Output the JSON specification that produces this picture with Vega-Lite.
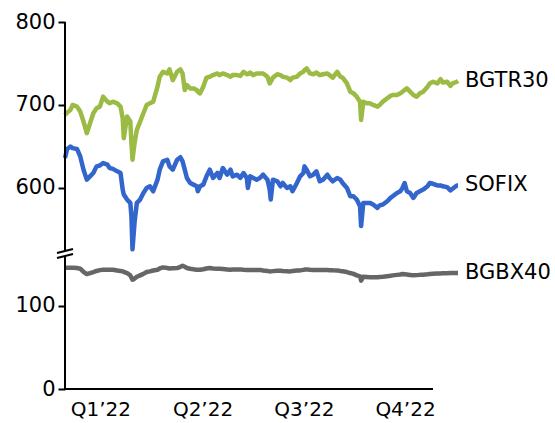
{
  "$schema": "https://vega.github.io/schema/vega-lite/v6.json",
  "width": 393,
  "height": 367,
  "autosize": "none",
  "padding": {"left": 65, "top": 22, "right": 97, "bottom": 34},
  "config": {"view": {"stroke": null}, "font": "DejaVu Sans"},
  "datasets": {
    "main": [
      {"date":"2022-01-03","BGTR30":688,"SOFIX":636,"BGBX40":145.5},
      {"date":"2022-01-05","BGTR30":691,"SOFIX":647,"BGBX40":146},
      {"date":"2022-01-08","BGTR30":694,"SOFIX":650,"BGBX40":146},
      {"date":"2022-01-10","BGTR30":700,"SOFIX":648,"BGBX40":146},
      {"date":"2022-01-14","BGTR30":698,"SOFIX":647,"BGBX40":145.5},
      {"date":"2022-01-17","BGTR30":692,"SOFIX":638,"BGBX40":144.7},
      {"date":"2022-01-20","BGTR30":680,"SOFIX":622,"BGBX40":141},
      {"date":"2022-01-23","BGTR30":666,"SOFIX":610,"BGBX40":138.3},
      {"date":"2022-01-26","BGTR30":678,"SOFIX":614,"BGBX40":139.5},
      {"date":"2022-01-29","BGTR30":690,"SOFIX":618,"BGBX40":140.7},
      {"date":"2022-02-01","BGTR30":696,"SOFIX":626,"BGBX40":142},
      {"date":"2022-02-04","BGTR30":698,"SOFIX":627,"BGBX40":143},
      {"date":"2022-02-07","BGTR30":710,"SOFIX":630,"BGBX40":143.5},
      {"date":"2022-02-11","BGTR30":704,"SOFIX":628,"BGBX40":143.5},
      {"date":"2022-02-13","BGTR30":702,"SOFIX":624,"BGBX40":143.5},
      {"date":"2022-02-16","BGTR30":704,"SOFIX":623,"BGBX40":143.5},
      {"date":"2022-02-20","BGTR30":702,"SOFIX":620,"BGBX40":142.5},
      {"date":"2022-02-23","BGTR30":698,"SOFIX":618,"BGBX40":142},
      {"date":"2022-02-25","BGTR30":684,"SOFIX":598,"BGBX40":141.5},
      {"date":"2022-02-26","BGTR30":660,"SOFIX":592,"BGBX40":141},
      {"date":"2022-03-01","BGTR30":686,"SOFIX":586,"BGBX40":139.5},
      {"date":"2022-03-04","BGTR30":680,"SOFIX":582,"BGBX40":136.7},
      {"date":"2022-03-05","BGTR30":655,"SOFIX":566,"BGBX40":134},
      {"date":"2022-03-06","BGTR30":634,"SOFIX":526,"BGBX40":131.5},
      {"date":"2022-03-08","BGTR30":655,"SOFIX":560,"BGBX40":133},
      {"date":"2022-03-10","BGTR30":670,"SOFIX":582,"BGBX40":135},
      {"date":"2022-03-13","BGTR30":680,"SOFIX":586,"BGBX40":136.7},
      {"date":"2022-03-16","BGTR30":690,"SOFIX":594,"BGBX40":138.5},
      {"date":"2022-03-19","BGTR30":700,"SOFIX":600,"BGBX40":140.7},
      {"date":"2022-03-22","BGTR30":702,"SOFIX":602,"BGBX40":141.5},
      {"date":"2022-03-25","BGTR30":704,"SOFIX":596,"BGBX40":142.5},
      {"date":"2022-03-29","BGTR30":722,"SOFIX":610,"BGBX40":143.5},
      {"date":"2022-03-31","BGTR30":734,"SOFIX":622,"BGBX40":145},
      {"date":"2022-04-03","BGTR30":740,"SOFIX":632,"BGBX40":146.3},
      {"date":"2022-04-07","BGTR30":738,"SOFIX":634,"BGBX40":145.5},
      {"date":"2022-04-09","BGTR30":743,"SOFIX":626,"BGBX40":145},
      {"date":"2022-04-12","BGTR30":730,"SOFIX":622,"BGBX40":145.3},
      {"date":"2022-04-16","BGTR30":740,"SOFIX":634,"BGBX40":145.5},
      {"date":"2022-04-19","BGTR30":743,"SOFIX":637,"BGBX40":147},
      {"date":"2022-04-21","BGTR30":738,"SOFIX":632,"BGBX40":148.3},
      {"date":"2022-04-23","BGTR30":718,"SOFIX":622,"BGBX40":147},
      {"date":"2022-04-25","BGTR30":724,"SOFIX":612,"BGBX40":145.5},
      {"date":"2022-04-28","BGTR30":720,"SOFIX":606,"BGBX40":144.7},
      {"date":"2022-05-01","BGTR30":720,"SOFIX":604,"BGBX40":144},
      {"date":"2022-05-04","BGTR30":718,"SOFIX":602,"BGBX40":143.5},
      {"date":"2022-05-05","BGTR30":716,"SOFIX":596,"BGBX40":143.5},
      {"date":"2022-05-07","BGTR30":714,"SOFIX":602,"BGBX40":143.5},
      {"date":"2022-05-10","BGTR30":722,"SOFIX":604,"BGBX40":144},
      {"date":"2022-05-13","BGTR30":733,"SOFIX":614,"BGBX40":145},
      {"date":"2022-05-16","BGTR30":734,"SOFIX":622,"BGBX40":145.5},
      {"date":"2022-05-19","BGTR30":736,"SOFIX":612,"BGBX40":145},
      {"date":"2022-05-23","BGTR30":738,"SOFIX":618,"BGBX40":144.7},
      {"date":"2022-05-25","BGTR30":736,"SOFIX":612,"BGBX40":144.7},
      {"date":"2022-05-28","BGTR30":738,"SOFIX":624,"BGBX40":144.3},
      {"date":"2022-06-01","BGTR30":736,"SOFIX":616,"BGBX40":143.8},
      {"date":"2022-06-04","BGTR30":734,"SOFIX":622,"BGBX40":143.5},
      {"date":"2022-06-06","BGTR30":736,"SOFIX":614,"BGBX40":143.7},
      {"date":"2022-06-10","BGTR30":736,"SOFIX":616,"BGBX40":143.9},
      {"date":"2022-06-13","BGTR30":735,"SOFIX":612,"BGBX40":143.9},
      {"date":"2022-06-16","BGTR30":740,"SOFIX":618,"BGBX40":143.5},
      {"date":"2022-06-19","BGTR30":737,"SOFIX":612,"BGBX40":143.3},
      {"date":"2022-06-20","BGTR30":737,"SOFIX":600,"BGBX40":143.2},
      {"date":"2022-06-22","BGTR30":739,"SOFIX":614,"BGBX40":143.1},
      {"date":"2022-06-25","BGTR30":736,"SOFIX":612,"BGBX40":143.1},
      {"date":"2022-06-28","BGTR30":738,"SOFIX":610,"BGBX40":143.1},
      {"date":"2022-07-01","BGTR30":738,"SOFIX":612,"BGBX40":143.3},
      {"date":"2022-07-04","BGTR30":738,"SOFIX":616,"BGBX40":142.5},
      {"date":"2022-07-08","BGTR30":734,"SOFIX":610,"BGBX40":142},
      {"date":"2022-07-10","BGTR30":726,"SOFIX":598,"BGBX40":141.5},
      {"date":"2022-07-11","BGTR30":728,"SOFIX":586,"BGBX40":141.5},
      {"date":"2022-07-13","BGTR30":733,"SOFIX":610,"BGBX40":141.8},
      {"date":"2022-07-17","BGTR30":737,"SOFIX":608,"BGBX40":142.2},
      {"date":"2022-07-20","BGTR30":736,"SOFIX":602,"BGBX40":142.3},
      {"date":"2022-07-22","BGTR30":734,"SOFIX":606,"BGBX40":142},
      {"date":"2022-07-26","BGTR30":733,"SOFIX":600,"BGBX40":141.7},
      {"date":"2022-07-29","BGTR30":730,"SOFIX":602,"BGBX40":141.5},
      {"date":"2022-07-31","BGTR30":733,"SOFIX":596,"BGBX40":142},
      {"date":"2022-08-04","BGTR30":734,"SOFIX":606,"BGBX40":142.5},
      {"date":"2022-08-07","BGTR30":738,"SOFIX":614,"BGBX40":142.7},
      {"date":"2022-08-10","BGTR30":740,"SOFIX":618,"BGBX40":143.3},
      {"date":"2022-08-11","BGTR30":742,"SOFIX":626,"BGBX40":143.7},
      {"date":"2022-08-13","BGTR30":744,"SOFIX":622,"BGBX40":143.9},
      {"date":"2022-08-16","BGTR30":738,"SOFIX":614,"BGBX40":143.5},
      {"date":"2022-08-19","BGTR30":737,"SOFIX":616,"BGBX40":143.3},
      {"date":"2022-08-22","BGTR30":739,"SOFIX":620,"BGBX40":143.1},
      {"date":"2022-08-25","BGTR30":736,"SOFIX":608,"BGBX40":143.1},
      {"date":"2022-08-28","BGTR30":737,"SOFIX":610,"BGBX40":143.1},
      {"date":"2022-09-01","BGTR30":738,"SOFIX":616,"BGBX40":143.1},
      {"date":"2022-09-03","BGTR30":736,"SOFIX":612,"BGBX40":143},
      {"date":"2022-09-06","BGTR30":733,"SOFIX":608,"BGBX40":142.8},
      {"date":"2022-09-10","BGTR30":740,"SOFIX":612,"BGBX40":142.7},
      {"date":"2022-09-13","BGTR30":734,"SOFIX":610,"BGBX40":142},
      {"date":"2022-09-15","BGTR30":733,"SOFIX":606,"BGBX40":141.6},
      {"date":"2022-09-19","BGTR30":726,"SOFIX":600,"BGBX40":140.7},
      {"date":"2022-09-22","BGTR30":716,"SOFIX":590,"BGBX40":139.5},
      {"date":"2022-09-25","BGTR30":714,"SOFIX":590,"BGBX40":138.5},
      {"date":"2022-09-28","BGTR30":710,"SOFIX":586,"BGBX40":136.7},
      {"date":"2022-10-01","BGTR30":704,"SOFIX":578,"BGBX40":135.5},
      {"date":"2022-10-02","BGTR30":682,"SOFIX":554,"BGBX40":130.3},
      {"date":"2022-10-04","BGTR30":704,"SOFIX":582,"BGBX40":135.1},
      {"date":"2022-10-07","BGTR30":702,"SOFIX":582,"BGBX40":134.8},
      {"date":"2022-10-10","BGTR30":702,"SOFIX":582,"BGBX40":134.5},
      {"date":"2022-10-13","BGTR30":700,"SOFIX":580,"BGBX40":134.3},
      {"date":"2022-10-17","BGTR30":698,"SOFIX":576,"BGBX40":134.5},
      {"date":"2022-10-19","BGTR30":700,"SOFIX":579,"BGBX40":134.8},
      {"date":"2022-10-22","BGTR30":704,"SOFIX":580,"BGBX40":135.1},
      {"date":"2022-10-26","BGTR30":708,"SOFIX":584,"BGBX40":135.7},
      {"date":"2022-10-29","BGTR30":711,"SOFIX":588,"BGBX40":136.2},
      {"date":"2022-10-31","BGTR30":712,"SOFIX":590,"BGBX40":136.7},
      {"date":"2022-11-04","BGTR30":712,"SOFIX":594,"BGBX40":137.3},
      {"date":"2022-11-07","BGTR30":714,"SOFIX":596,"BGBX40":137.8},
      {"date":"2022-11-09","BGTR30":716,"SOFIX":600,"BGBX40":138.3},
      {"date":"2022-11-11","BGTR30":718,"SOFIX":606,"BGBX40":138},
      {"date":"2022-11-13","BGTR30":720,"SOFIX":596,"BGBX40":137.7},
      {"date":"2022-11-16","BGTR30":716,"SOFIX":594,"BGBX40":137.2},
      {"date":"2022-11-19","BGTR30":712,"SOFIX":588,"BGBX40":136.7},
      {"date":"2022-11-22","BGTR30":710,"SOFIX":594,"BGBX40":137},
      {"date":"2022-11-25","BGTR30":714,"SOFIX":596,"BGBX40":137.3},
      {"date":"2022-11-28","BGTR30":716,"SOFIX":598,"BGBX40":137.5},
      {"date":"2022-12-02","BGTR30":722,"SOFIX":602,"BGBX40":138},
      {"date":"2022-12-04","BGTR30":726,"SOFIX":606,"BGBX40":138.4},
      {"date":"2022-12-07","BGTR30":728,"SOFIX":605,"BGBX40":138.7},
      {"date":"2022-12-11","BGTR30":726,"SOFIX":603,"BGBX40":138.9},
      {"date":"2022-12-14","BGTR30":731,"SOFIX":603,"BGBX40":139},
      {"date":"2022-12-16","BGTR30":727,"SOFIX":602,"BGBX40":139.1},
      {"date":"2022-12-20","BGTR30":728,"SOFIX":601,"BGBX40":139.3},
      {"date":"2022-12-23","BGTR30":723,"SOFIX":597,"BGBX40":139.4},
      {"date":"2022-12-25","BGTR30":726,"SOFIX":599,"BGBX40":139.5},
      {"date":"2022-12-29","BGTR30":728,"SOFIX":603,"BGBX40":139.5},
      {"date":"2022-12-30","BGTR30":729,"SOFIX":603,"BGBX40":139.5}
    ]
  },
  "layer": [
    {
      "data": {"name": "main"},
      "transform": [{"fold": ["BGTR30", "SOFIX", "BGBX40"], "as": ["series", "value"]}],
      "mark": {"type": "line", "strokeWidth": 4.5, "strokeJoin": "round", "strokeCap": "butt"},
      "encoding": {
        "x": {
          "field": "date", "type": "temporal",
          "scale": {"type": "utc", "domain": [{"year": 2022, "month": 1, "date": 3, "utc": true}, {"year": 2022, "month": 12, "date": 30, "utc": true}]},
          "axis": {
            "title": null, "domain": false, "ticks": false, "grid": false,
            "values": [
              {"year": 2022, "month": 2, "date": 4, "hours": 12, "utc": true},
              {"year": 2022, "month": 5, "date": 9, "hours": 8, "utc": true},
              {"year": 2022, "month": 8, "date": 10, "hours": 12, "utc": true},
              {"year": 2022, "month": 11, "date": 11, "hours": 8, "utc": true}
            ],
            "labelExpr": "'Q' + (floor(utcmonth(datum.value) / 3) + 1) + '’22'",
            "labelFontSize": 20, "labelColor": "#000000", "labelPadding": 10,
            "labelBaseline": "top", "labelFont": "DejaVu Sans"
          }
        },
        "y": {
          "field": "value", "type": "quantitative",
          "scale": {"domain": [0, 160, 524, 800], "range": [367, 234, 229, 0], "nice": false, "zero": false},
          "axis": {
            "title": null, "domain": false, "grid": false,
            "values": [0, 100, 600, 700, 800],
            "tickSize": 7, "tickWidth": 2, "tickColor": "#000000",
            "labelFontSize": 21, "labelColor": "#000000", "labelPadding": 3, "labelFont": "DejaVu Sans"
          }
        },
        "color": {
          "field": "series", "type": "nominal", "legend": null,
          "scale": {"domain": ["BGTR30", "SOFIX", "BGBX40"], "range": ["#9bbb45", "#3366cc", "#666666"]}
        }
      }
    },
    {
      "data": {"values": [{"lo": 0, "hi": 160}, {"lo": 524, "hi": 800}]},
      "mark": {"type": "rule", "strokeWidth": 2, "color": "#000000"},
      "encoding": {
        "x": {"datum": {"year": 2022, "month": 1, "date": 3, "utc": true}, "type": "temporal"},
        "y": {"field": "lo", "type": "quantitative", "scale": {"domain": [0, 160, 524, 800], "range": [367, 234, 229, 0], "nice": false, "zero": false}},
        "y2": {"field": "hi"}
      }
    },
    {
      "data": {"values": [{"base": 0}]},
      "mark": {"type": "rule", "strokeWidth": 2, "color": "#000000"},
      "encoding": {
        "x": {"datum": {"year": 2022, "month": 1, "date": 3, "utc": true}, "type": "temporal"},
        "x2": {"datum": {"year": 2022, "month": 12, "date": 7, "utc": true}},
        "y": {"field": "base", "type": "quantitative", "scale": {"domain": [0, 160, 524, 800], "range": [367, 234, 229, 0], "nice": false, "zero": false}}
      }
    },
    {
      "data": {"values": [{"brk": 160}, {"brk": 524}]},
      "mark": {"type": "point", "shape": "M-1,0.25L1,-0.25", "size": 256, "filled": false, "stroke": "#000000", "strokeWidth": 2, "opacity": 1},
      "encoding": {
        "x": {"datum": {"year": 2022, "month": 1, "date": 3, "utc": true}, "type": "temporal"},
        "y": {"field": "brk", "type": "quantitative", "scale": {"domain": [0, 160, 524, 800], "range": [367, 234, 229, 0], "nice": false, "zero": false}}
      }
    },
    {
      "data": {"name": "main"},
      "transform": [{"fold": ["BGTR30", "SOFIX", "BGBX40"], "as": ["series", "value"]}],
      "mark": {"type": "text", "align": "left", "baseline": "middle", "dx": 7, "fontSize": 21, "font": "DejaVu Sans", "color": "#000000"},
      "encoding": {
        "x": {"field": "date", "type": "temporal", "aggregate": "max"},
        "y": {"field": "value", "type": "quantitative", "aggregate": {"argmax": "date"}, "scale": {"domain": [0, 160, 524, 800], "range": [367, 234, 229, 0], "nice": false, "zero": false}},
        "text": {"field": "series", "type": "nominal"}
      }
    }
  ]
}
